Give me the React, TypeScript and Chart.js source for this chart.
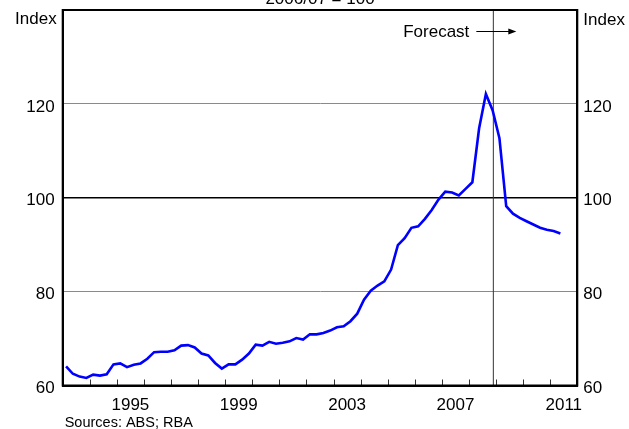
import React, { useEffect, useRef } from "react";
import { Chart, registerables } from "chart.js";

Chart.register(...registerables);

// Quarterly index, 1993 Q1 to 2011 Q2 (forecast from late 2008)
const startQuarterYear = 1993; // first point is March quarter 1993
const indexValues: number[] = [
  64.1, 62.5, 61.9, 61.6, 62.3, 62.1, 62.4, 64.5, 64.7, 63.9,
  64.4, 64.7, 65.7, 67.1, 67.2, 67.2, 67.5, 68.5, 68.6, 68.1,
  66.8, 66.4, 64.8, 63.6, 64.5, 64.5, 65.5, 66.8, 68.7, 68.5,
  69.3, 68.9, 69.1, 69.4, 70.1, 69.8, 70.9, 70.9, 71.2, 71.7,
  72.4, 72.6, 73.7, 75.3, 78.3, 80.2, 81.3, 82.2, 84.7, 89.9,
  91.4, 93.6, 93.9, 95.5, 97.4, 99.6, 101.3, 101.1, 100.5, 101.9,
  103.3, 114.8, 122.1, 118.6, 112.7, 98.2, 96.6, 95.7, 95.0, 94.3,
  93.6, 93.2, 92.9, 92.4,
];
const xLabelYears: number[] = [1995, 1999, 2003, 2007, 2011];
const xMinorTickYears: number[] = [
  1994, 1995, 1996, 1997, 1998, 1999, 2000, 2001, 2002, 2003,
  2004, 2005, 2006, 2007, 2008, 2009, 2010, 2011,
];
const yTicks: number[] = [60, 80, 100, 120, 140];
const forecastStart = 2008.9;
const titleText = "2006/07 = 100";
const unitText = "Index";
const forecastText = "Forecast";
const sourceText = "Sources: ABS; RBA";

const FONT = "'Liberation Sans', Arial, Helvetica, sans-serif";

export default function App() {
  const ref = useRef<HTMLCanvasElement | null>(null);

  useEffect(() => {
    if (!ref.current) return;
    const points = indexValues.map((v, i) => ({
      x: startQuarterYear + (i + 0.5) / 4,
      y: v,
    }));

    const decor = {
      id: "decor",
      beforeDatasetsDraw(chart: any) {
        const { ctx, chartArea: a, scales } = chart;
        const fx = scales.x.getPixelForValue(forecastStart);
        ctx.save();
        ctx.strokeStyle = "#333";
        ctx.lineWidth = 1;
        ctx.beginPath();
        ctx.moveTo(fx, a.top);
        ctx.lineTo(fx, a.bottom);
        ctx.stroke();
        for (const yr of xMinorTickYears) {
          const px = Math.round(scales.x.getPixelForValue(yr)) + 0.5;
          ctx.beginPath();
          ctx.moveTo(px, a.bottom);
          ctx.lineTo(px, a.bottom - 6);
          ctx.stroke();
        }
        ctx.restore();
      },
      afterDraw(chart: any) {
        const { ctx, chartArea: a, scales } = chart;
        const fx = scales.x.getPixelForValue(forecastStart);
        ctx.save();
        ctx.strokeStyle = "#000";
        ctx.lineWidth = 2;
        ctx.strokeRect(a.left, a.top, a.right - a.left, a.bottom - a.top);
        ctx.fillStyle = "#000";
        ctx.font = `17px ${FONT}`;
        ctx.textAlign = "center";
        ctx.textBaseline = "alphabetic";
        ctx.fillText(titleText, (a.left + a.right) / 2, 4);
        ctx.textAlign = "right";
        ctx.fillText(unitText, a.left - 6, 24);
        ctx.textAlign = "left";
        ctx.fillText(unitText, a.right + 6, 25);
        ctx.textAlign = "right";
        ctx.fillText(forecastText, fx - 24, 37);
        ctx.strokeStyle = "#000";
        ctx.lineWidth = 1;
        ctx.beginPath();
        ctx.moveTo(fx - 17, 31.5);
        ctx.lineTo(fx + 16, 31.5);
        ctx.stroke();
        ctx.beginPath();
        ctx.moveTo(fx + 23, 31.5);
        ctx.lineTo(fx + 15, 28.5);
        ctx.lineTo(fx + 15, 34.5);
        ctx.closePath();
        ctx.fill();
        ctx.font = `14.5px ${FONT}`;
        ctx.textAlign = "left";
        ctx.fillText(sourceText, a.left + 2, 426.5);
        ctx.restore();
      },
    };

    const yTickCfg = (padding: number) => ({
      stepSize: 20,
      padding,
      labelOffset: 3,
      color: "#000",
      font: { family: FONT, size: 17 },
      callback: (v: any) => (v === yTicks[yTicks.length - 1] ? "" : String(v)),
    });

    const fitY = (w: number) => (s: any) => {
      s.width = w;
      s.paddingTop = 0;
      s.paddingBottom = 0;
    };

    const chart = new Chart(ref.current, {
      type: "line",
      data: {
        datasets: [
          {
            data: points,
            borderColor: "#0000ff",
            borderWidth: 2.6,
            pointRadius: 0,
            tension: 0,
            fill: false,
          },
        ],
      },
      options: {
        animation: false,
        responsive: true,
        maintainAspectRatio: false,
        layout: { padding: { top: 10, left: 0, right: 0, bottom: 0 } },
        plugins: {
          legend: { display: false },
          title: { display: false },
          tooltip: { enabled: false },
        },
        scales: {
          x: {
            type: "linear",
            min: 1993,
            max: 2012,
            afterBuildTicks: (s: any) => {
              s.ticks = xLabelYears.map((y) => ({ value: y + 0.5 }));
            },
            afterFit: (s: any) => {
              s.height = 43.5;
              s.paddingLeft = 0;
              s.paddingRight = 0;
            },
            ticks: {
              autoSkip: false,
              maxRotation: 0,
              padding: 2,
              color: "#000",
              font: { family: FONT, size: 17 },
              callback: (v: any) => String(Math.floor(Number(v))),
            },
            grid: { display: false },
            border: { display: true, color: "#000", width: 2 },
          },
          y: {
            position: "left",
            min: yTicks[0],
            max: yTicks[yTicks.length - 1],
            afterFit: fitY(62.7),
            ticks: yTickCfg(8) as any,
            grid: {
              drawTicks: false,
              color: (c: any) => (c.tick && c.tick.value === 100 ? "#000" : "#8a8a8a"),
              lineWidth: (c: any) => (c.tick && c.tick.value === 100 ? 1.6 : 1),
            },
            border: { display: true, color: "#000", width: 2 },
          },
          y2: {
            position: "right",
            min: yTicks[0],
            max: yTicks[yTicks.length - 1],
            afterFit: fitY(51.7),
            ticks: yTickCfg(6) as any,
            grid: { display: false, drawTicks: false },
            border: { display: true, color: "#000", width: 2 },
          },
        },
      },
      plugins: [decor],
    });
    return () => chart.destroy();
  }, []);

  return (
    <div style={{ position: "absolute", left: 0, top: 0, width: 629, height: 429 }}>
      <canvas ref={ref} />
    </div>
  );
}
